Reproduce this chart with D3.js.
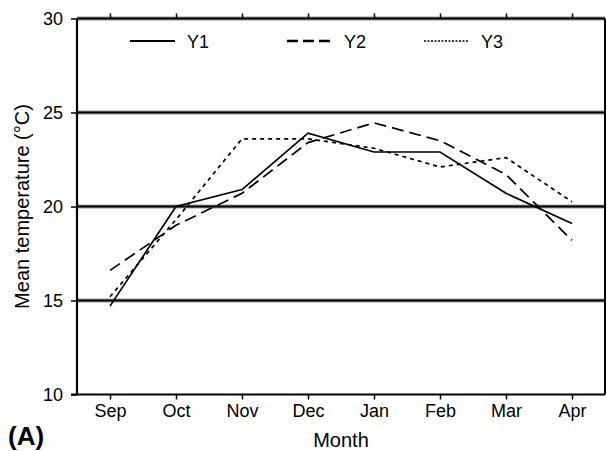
<!DOCTYPE html>
<html>
<head>
<meta charset="utf-8">
<script src="https://cdn.jsdelivr.net/npm/d3@7"></script>
<style>
  body { margin: 0; background: #fff; }
  svg { display: block; font-family: "Liberation Sans", Arial, sans-serif; }
</style>
</head>
<body>
<svg width="607" height="451"></svg>
<script>
// Monthly mean temperatures
const months = ["Sep", "Oct", "Nov", "Dec", "Jan", "Feb", "Mar", "Apr"];
const y1 = [14.7, 20.0, 20.9, 23.9, 22.9, 22.9, 20.7, 19.1];
const y2 = [16.6, 19.0, 20.7, 23.4, 24.45, 23.5, 21.7, 18.2];
const y3 = [15.2, 19.3, 23.6, 23.6, 23.1, 22.1, 22.6, 20.25];
const seriesNames = ["Y1", "Y2", "Y3"];
const yTicks = [10, 15, 20, 25, 30];
const gridValues = [15, 20, 25, 30];

const svg = d3.select("svg");

// Plot area
const plotLeft = 77, plotRight = 605, plotTop = 18.5, plotBottom = 394.5;

const x = d3.scalePoint()
    .domain(months)
    .range([plotLeft, plotRight])
    .padding(0.5);

const y = d3.scaleLinear()
    .domain([10, 30])
    .range([plotBottom, plotTop]);

// Thick horizontal reference lines (gray halo under a black core)
gridValues.forEach(v => {
    svg.append("line")
        .attr("x1", plotLeft).attr("x2", plotRight)
        .attr("y1", y(v)).attr("y2", y(v))
        .attr("stroke", "#9a9a9a").attr("stroke-width", 4);
    svg.append("line")
        .attr("x1", plotLeft).attr("x2", plotRight)
        .attr("y1", y(v)).attr("y2", y(v))
        .attr("stroke", "#000").attr("stroke-width", 2.2);
});

// Bottom axis
const xAxis = svg.append("g")
    .attr("transform", `translate(0,${plotBottom})`)
    .call(d3.axisBottom(x).tickSize(5).tickPadding(5))
    .attr("font-family", null);
xAxis.select(".domain").attr("d", `M${plotLeft - 6},0H${plotRight}`).attr("stroke-width", 2);
xAxis.selectAll(".tick line").attr("stroke-width", 1.5);
xAxis.selectAll("text").attr("font-size", 18).attr("fill", "#000");

// Top ticks (pointing up)
const xTop = svg.append("g")
    .attr("transform", `translate(0,${plotTop})`)
    .call(d3.axisTop(x).tickSize(5).tickFormat(""));
xTop.select(".domain").remove();
xTop.selectAll(".tick line").attr("stroke-width", 1.5);

// Left axis
const yAxis = svg.append("g")
    .attr("transform", `translate(${plotLeft},0)`)
    .call(d3.axisLeft(y).tickValues(yTicks).tickSize(6).tickPadding(8))
    .attr("font-family", null);
yAxis.select(".domain").attr("d", `M0,${plotTop}V${plotBottom}`).attr("stroke-width", 2.2);
yAxis.selectAll(".tick line").attr("stroke-width", 1.5);
yAxis.selectAll("text").attr("font-size", 18).attr("fill", "#000");

// Right frame
svg.append("line")
    .attr("x1", plotRight).attr("x2", plotRight)
    .attr("y1", plotTop).attr("y2", plotBottom)
    .attr("stroke", "#000").attr("stroke-width", 2);

// Series lines
const styles = [
    { data: y1, dash: null, width: 1.7 },
    { data: y2, dash: "12,6", width: 1.7 },
    { data: y3, dash: "4,4", width: 1.7 }
];

const line = d3.line()
    .x((d, i) => x(months[i]))
    .y(d => y(d));

styles.forEach(s => {
    svg.append("path")
        .datum(s.data)
        .attr("d", line)
        .attr("fill", "none")
        .attr("stroke", "#000")
        .attr("stroke-width", s.width)
        .attr("stroke-dasharray", s.dash);
});

// Legend
const legendX = [130, 287, 424];
const legendDash = [null, "11,5", "2,1.5"];
const legendWidth = [2, 2.6, 1.6];
seriesNames.forEach((name, i) => {
    svg.append("line")
        .attr("x1", legendX[i]).attr("x2", legendX[i] + 45)
        .attr("y1", 41).attr("y2", 41)
        .attr("stroke", "#000")
        .attr("stroke-width", legendWidth[i])
        .attr("stroke-dasharray", legendDash[i]);
    svg.append("text")
        .attr("x", legendX[i] + 57)
        .attr("y", 48)
        .attr("font-size", 18)
        .text(name);
});

// Axis titles
svg.append("text")
    .attr("x", x("Dec") + (x("Jan") - x("Dec")) / 2)
    .attr("y", 447)
    .attr("text-anchor", "middle")
    .attr("font-size", 20)
    .text("Month");

svg.append("text")
    .attr("transform", `translate(29,${y(20)}) rotate(-90)`)
    .attr("text-anchor", "middle")
    .attr("font-size", 20)
    .text("Mean temperature (°C)");

// Panel label
svg.append("text")
    .attr("x", 8)
    .attr("y", 445)
    .attr("font-size", 26)
    .attr("font-weight", "bold")
    .text("(A)");
</script>
</body>
</html>
